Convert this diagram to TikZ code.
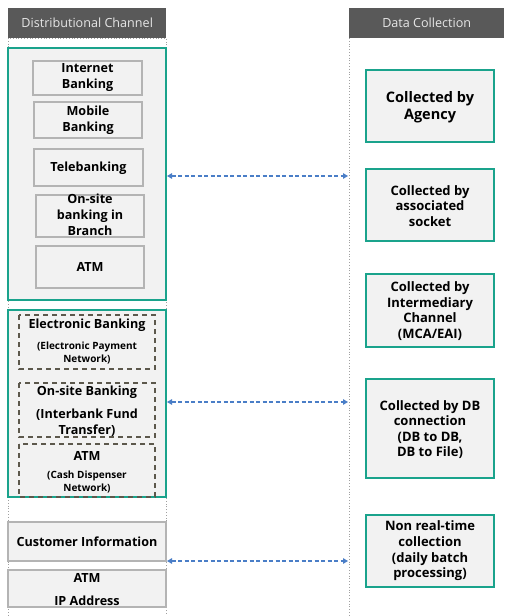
\documentclass[tikz,border=0pt]{standalone}
\usepackage{fontspec}
\setmainfont{Open Sans}
\usetikzlibrary{arrows.meta}
\definecolor{teal1}{HTML}{1AA38C}
\definecolor{boxfill}{HTML}{F2F2F2}
\definecolor{boxline}{HTML}{B4B4B4}
\definecolor{headfill}{HTML}{595959}
\definecolor{headtext}{HTML}{E6E6E6}
\definecolor{dashline}{HTML}{5C584C}
\definecolor{lanedot}{HTML}{A0A0A0}
\definecolor{arrowblue}{HTML}{4A7EC7}
\tikzset{
  x=1pt, y=-1pt,
  header/.style={fill=headfill, draw=none, text=headtext, font=\fontsize{12.6}{15}\selectfont},
  lane/.style={draw=lanedot, line width=0.8pt, dotted},
  group/.style={draw=teal1, fill=boxfill, line width=1.4pt},
  inbox/.style={draw=boxline, fill=boxfill, line width=1.3pt},
  dashbox/.style={draw=dashline, line width=1.3pt, dash pattern=on 5pt off 4pt},
  collect/.style={draw=teal1, fill=boxfill, line width=1.4pt},
  lbl/.style={font=\bfseries\fontsize{12.6}{16}\selectfont, align=center, inner sep=0pt, text=black},
  small/.style={font=\bfseries\fontsize{10}{13}\selectfont, align=center, inner sep=0pt, text=black},
  link/.style={draw=arrowblue, line width=1.1pt, dash pattern=on 4pt off 2.5pt,
    {Triangle[length=5pt,width=5.5pt]}-{Triangle[length=5pt,width=5.5pt]}},
}
\begin{document}
\begin{tikzpicture}
\useasboundingbox (0,0) rectangle (504,616);
\fill[white] (0,0) rectangle (504,616);

% lanes
\draw[lane] (8,38) rectangle (166,622);
\draw[lane] (349,38) -- (349,622);
\node[header, minimum width=158pt, minimum height=30pt, anchor=north west] (hl) at (8,8) {Distributional Channel};
\node[header, minimum width=155pt, minimum height=30pt, anchor=north west] (hr) at (349,8) {Data Collection};

% online channels group
\draw[group] (8,48) rectangle (166,300);
\draw[inbox] (33,61) rectangle (142,95);
\node[lbl] (ib) at (87.5,78) {Internet\\Banking};
\draw[inbox] (34,102) rectangle (142,138);
\node[lbl] (mb) at (88,120) {Mobile\\Banking};
\draw[inbox] (34,149) rectangle (143,186);
\node[lbl] (tb) at (88.5,168) {Telebanking};
\draw[inbox] (36,195) rectangle (144,237);
\node[lbl] (ob) at (90,215) {On-site\\banking in\\Branch};
\draw[inbox] (36,246) rectangle (144,288);
\node[lbl] (atm1) at (90,267) {ATM};

% interbank networks group
\draw[group] (8,310) rectangle (166,497);
\draw[dashbox] (19,315) rectangle (155,369);
\node[lbl] (eb) at (87,325) {Electronic Banking};
\node[small] (ebn) at (87,353) {(Electronic Payment\\Network)};
\draw[dashbox] (19,383) rectangle (155,437);
\node[lbl] (osb) at (87,392) {On-site Banking};
\node[lbl] (osbn) at (87,423) {(Interbank Fund\\Transfer)};
\draw[dashbox] (19,444) rectangle (155,497);
\node[lbl] (atm2) at (87,456) {ATM};
\node[small] (atm2n) at (87,482) {(Cash Dispenser\\Network)};

% batch data
\draw[inbox] (8,522) rectangle (166,561);
\node[lbl] (ci) at (87,541.5) {Customer Information};
\draw[inbox] (8,570) rectangle (166,607);
\node[lbl] (atm3) at (87,578) {ATM};
\node[lbl] (ip) at (87,601) {IP Address};

% collection methods
\draw[collect] (366,70) rectangle (494,142);
\node[lbl, font=\bfseries\fontsize{14.5}{16.5}\selectfont] (c1) at (430,107) {Collected by\\Agency};
\draw[collect] (366,169) rectangle (494,241);
\node[lbl, font=\bfseries\fontsize{13}{15.6}\selectfont] (c2) at (430,206) {Collected by\\associated\\socket};
\draw[collect] (366,274) rectangle (494,347);
\node[lbl, font=\bfseries\fontsize{13}{15.6}\selectfont] (c3) at (430,311) {Collected by\\Intermediary\\Channel\\(MCA/EAI)};
\draw[collect] (366,379) rectangle (494,478);
\node[lbl, font=\bfseries\fontsize{13}{15.6}\selectfont] (c4) at (430,429.5) {Collected by DB\\connection\\(DB to DB,\\DB to File)};
\draw[collect] (366,515) rectangle (494,587);
\node[lbl, font=\bfseries\fontsize{13}{15.6}\selectfont] (c5) at (430,551) {Non real-time\\collection\\(daily batch\\processing)};

% links between channels and collection
\coordinate (l1) at (167,176); \coordinate (r1) at (348,176);
\coordinate (l2) at (167,402); \coordinate (r2) at (348,402);
\coordinate (l3) at (167,561); \coordinate (r3) at (348,561);
\draw[link] (l1) -- (r1);
\draw[link] (l2) -- (r2);
\draw[link] (l3) -- (r3);
\end{tikzpicture}
\end{document}
